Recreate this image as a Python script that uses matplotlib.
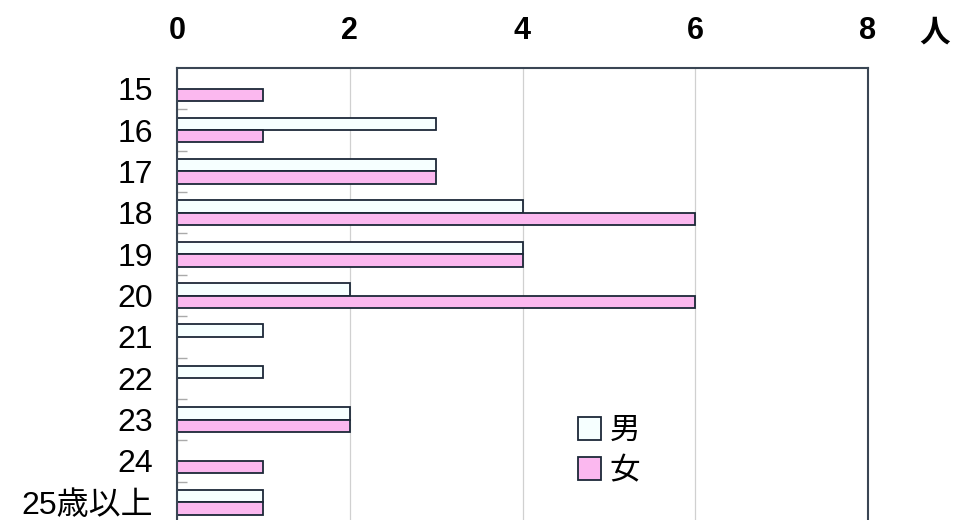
import numpy as np
import matplotlib.pyplot as plt

plt.rcParams['font.family'] = ['Liberation Sans', 'Noto Sans CJK JP']

ages = ['15', '16', '17', '18', '19', '20', '21', '22', '23', '24', '25歳以上']
male = [0, 3, 3, 4, 4, 2, 1, 1, 2, 0, 1]
female = [1, 1, 3, 6, 4, 6, 0, 0, 2, 1, 1]
x_ticks = [0, 2, 4, 6, 8]

edge = '#1c2838'
pink = '#fbb8ef'

fig = plt.figure(figsize=(9.6, 5.2), dpi=100)
ax = fig.add_axes([177 / 960, -3 / 520, 691 / 960, 455 / 520])

y = np.arange(len(ages))
h = 0.3
b_m = ax.barh(y - h / 2, male, height=h, color='#f6ffff', edgecolor=edge, linewidth=1.3, label='男')
b_f = ax.barh(y + h / 2, female, height=h, color=pink, edgecolor=edge, linewidth=1.3, label='女')

ax.set_xlim(0, 8)
ax.set_ylim(len(ages) - 0.5, -0.5)

ax.set_xticks(x_ticks)
ax.xaxis.tick_top()
ax.tick_params(axis='x', length=0, pad=16, labelsize=22)
for lab in ax.get_xticklabels():
    lab.set_fontweight('bold')
ax.grid(axis='x', color='#d0d0d0', linewidth=0.9)
ax.set_axisbelow(True)

ax.set_yticks(y)
ax.set_yticklabels(ages, fontsize=23)
ax.tick_params(axis='y', length=0, pad=17)
# short separators between age groups
ax.set_yticks(np.arange(0.5, len(ages) - 0.5), minor=True)
ax.tick_params(axis='y', which='minor', direction='in', length=7, color='#aaaaaa', width=1)

for s in ax.spines.values():
    s.set_color('#3a4654')
    s.set_linewidth(1.5)

fig.text(935 / 960, 1 - 34 / 520, '人', fontsize=22, fontweight='bold', ha='center', va='center')

ax.legend(handles=[b_m, b_f], loc='upper left', bbox_to_anchor=(0.54, 0.295),
          frameon=False, fontsize=22, handlelength=0.75, handleheight=0.8,
          handletextpad=0.3, labelspacing=0.32)

fig.savefig('out.png', dpi=100)
